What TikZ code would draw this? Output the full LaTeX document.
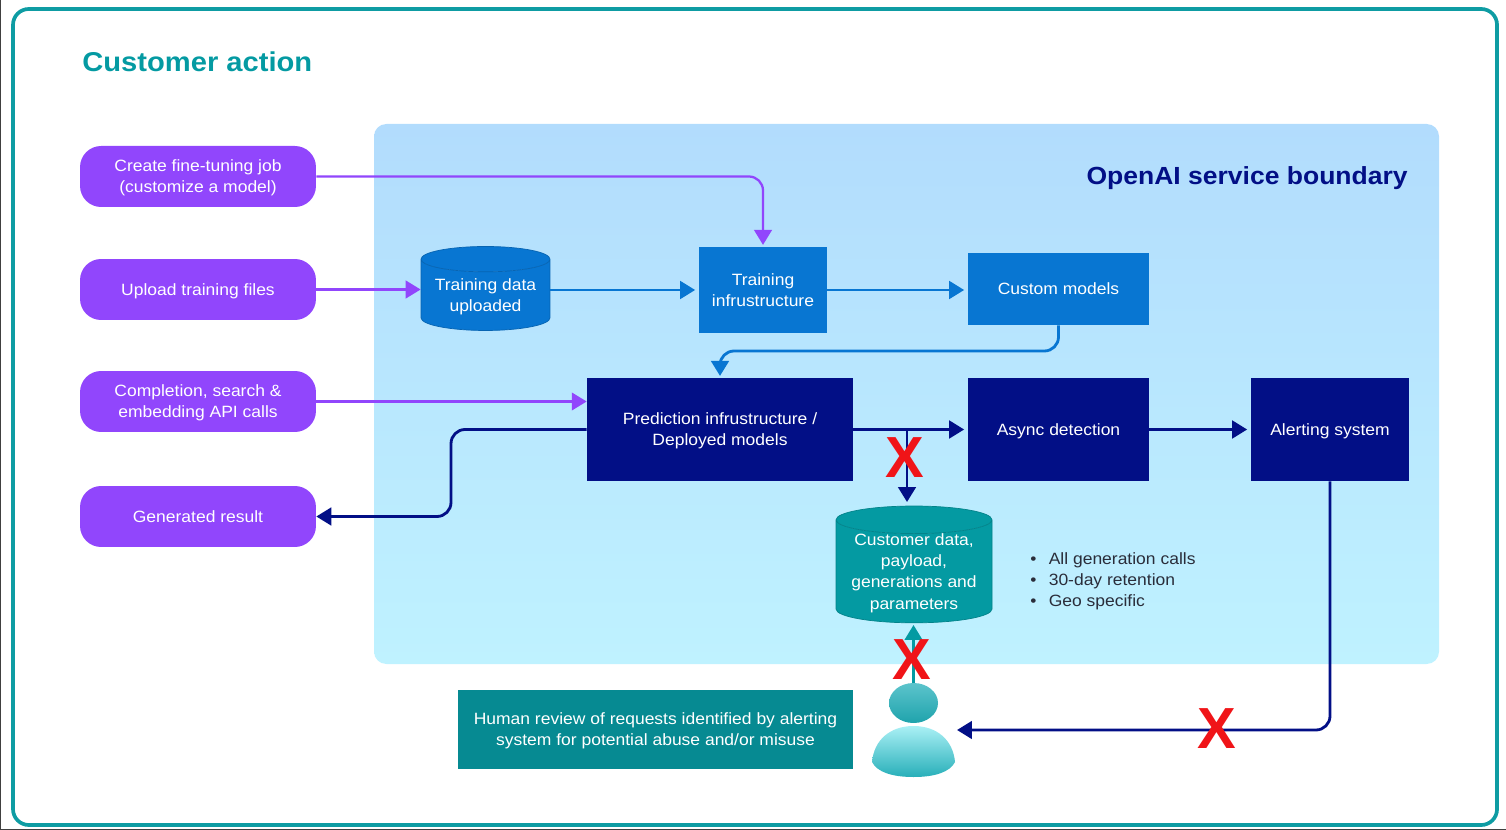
\documentclass[tikz,border=0pt]{standalone}
\usepackage{fontspec}
\setmainfont[FakeStretch=1.07]{Liberation Sans}
\newfontfamily\crossfont{Liberation Sans}
\usetikzlibrary{arrows.meta,shapes.geometric}
\definecolor{framecol}{HTML}{0E9CA3}
\definecolor{pillcol}{HTML}{9146FC}
\definecolor{midblue}{HTML}{0876D2}
\definecolor{navycol}{HTML}{020F86}
\definecolor{tealcol}{HTML}{049AA2}
\definecolor{revcol}{HTML}{068A92}
\definecolor{skytop}{HTML}{B2DCFD}
\definecolor{skybottom}{HTML}{BFF2FF}
\definecolor{headtop}{HTML}{5CC4CC}
\definecolor{headbottom}{HTML}{1FA3AC}
\definecolor{bodytop}{HTML}{AAF0F5}
\definecolor{bodybottom}{HTML}{28AFB9}
\definecolor{notecol}{HTML}{2A2D3A}
\definecolor{crosscol}{HTML}{F01418}
\tikzset{
  boxtext/.style={align=center,text=white,text depth=-1.3pt,font=\fontsize{9.3}{12}\selectfont},
  pill/.style={rectangle,rounded corners=12pt,fill=pillcol,boxtext,minimum width=4.72cm,minimum height=1.22cm},
  blockbox/.style={rectangle,fill=#1,boxtext},
  drum/.style={cylinder,shape border rotate=90,draw=#1!85!black,line width=0.4pt,cylinder uses custom fill,cylinder body fill=#1,cylinder end fill=#1,boxtext,inner sep=0pt},
  flow/.style={draw=#1,line width=1.6pt,rounded corners=8pt,-{Triangle[length=8.5pt,width=10pt]}},
  redcross/.style={text=crosscol,font=\fontsize{33}{33}\selectfont\crossfont\bfseries,inner sep=0pt},
}
\begin{document}
\begin{tikzpicture}[x=0.02cm,y=-0.02cm]
  \useasboundingbox (0,0) rectangle (1506,830);
  \draw[black!75,line width=0.8pt] (0.5,0) -- (0.5,830) -- (1506,830);
  \draw[framecol,line width=2.1pt,rounded corners=9pt] (13,9) rectangle (1497,825);
  \node[text=tealcol,anchor=west,inner sep=0pt,font=\fontsize{15.5}{18}\selectfont\bfseries] (title) at (82,62) {Customer action};
  \path[rounded corners=7pt,top color=skytop,bottom color=skybottom] (374,124) rectangle (1439,664);
  \node[text=navycol,anchor=east,inner sep=0pt,font=\fontsize{14.1}{18}\selectfont\bfseries] (boundary) at (1408,178) {OpenAI service boundary};
  % customer side
  \node[pill] (finetune) at (198,176.5) {Create fine-tuning job\\(customize a model)};
  \node[pill] (upload) at (198,289.5) {Upload training files};
  \node[pill] (completion) at (198,401.5) {Completion, search \&\\embedding API calls};
  \node[pill] (result) at (198,516.5) {Generated result};
  % service side
  \node[drum=midblue,aspect=0.25,minimum width=2.58cm,minimum height=1.68cm] (traindata) at (485.5,295) {Training data\\uploaded};
  \node[blockbox=midblue,minimum width=2.56cm,minimum height=1.72cm] (traininf) at (763,290) {Training\\infrustructure};
  \node[blockbox=midblue,minimum width=3.62cm,minimum height=1.44cm] (custom) at (1058.5,289) {Custom models};
  \node[blockbox=navycol,minimum width=5.32cm,minimum height=2.06cm] (predict) at (720,429.5) {Prediction infrustructure /\\Deployed models};
  \node[blockbox=navycol,minimum width=3.62cm,minimum height=2.06cm] (async) at (1058.5,429.5) {Async detection};
  \node[blockbox=navycol,minimum width=3.16cm,minimum height=2.06cm] (alert) at (1330,429.5) {Alerting system};
  \node[drum=tealcol,aspect=0.22,minimum width=3.12cm,minimum height=2.32cm] (store) at (914,571.5) {Customer data,\\payload,\\generations and\\parameters};
  \node[anchor=west,inner sep=0pt,text=notecol,font=\fontsize{9.3}{12}\selectfont,align=left] (notes) at (1030,581) {•\hspace{7pt}All generation calls\\•\hspace{7pt}30-day retention\\•\hspace{7pt}Geo specific};
  \node[blockbox=revcol,minimum width=7.9cm,minimum height=1.58cm] (review) at (655.5,729.5) {Human review of requests identified by alerting\\system for potential abuse and/or misuse};
  % person
  \node[ellipse,minimum width=0.98cm,minimum height=0.8cm,inner sep=0pt,top color=headtop,bottom color=headbottom] (head) at (913.5,703) {};
  \path[top color=bodytop,bottom color=bodybottom] (872,762) .. controls (874,740) and (890,726) .. (913.5,726) .. controls (937,726) and (953,740) .. (955,762) .. controls (950,772) and (935,777) .. (913.5,777) .. controls (892,777) and (877,772) .. (872,762) -- cycle;
  \coordinate (personin) at (957,730);
  \coordinate (branch) at (907,429.5);
  \coordinate (bend) at (451,429.5);
  % connectors
  \draw[flow=pillcol,line width=1.3pt,shorten >=1pt] (finetune.east) -| (traininf.north);
  \draw[flow=pillcol,line width=1.3pt] (upload.east) -- (traindata.west |- upload.east);
  \draw[flow=pillcol,line width=1.3pt] (completion.east) -- (predict.west |- completion.east);
  \draw[flow=midblue,shorten >=2pt] (traindata.east |- traininf.west) -- (traininf.west);
  \draw[flow=midblue,shorten >=2pt] (traininf.east) -- (custom.west |- traininf.east);
  \draw[flow=midblue,shorten >=1pt] (custom.south) |- (720,351) -- (predict.north);
  \draw[flow=navycol] (predict.west) -- (bend) |- (result.east);
  \draw[flow=navycol,shorten >=2pt] (predict.east) -- (async.west);
  \draw[flow=navycol,shorten >=2pt] (async.east) -- (alert.west);
  \draw[flow=navycol] (branch) -- (907,502);
  \draw[flow=navycol] (alert.south) |- (personin);
  \draw[flow=tealcol,line width=1.3pt] (head.north) -- (913.5,625);
  % crossed out
  \node[redcross] (crossa) at (905,458) {X};
  \node[redcross] (crossb) at (912,660) {X};
  \node[redcross] (crossc) at (1217,729) {X};
\end{tikzpicture}
\end{document}
